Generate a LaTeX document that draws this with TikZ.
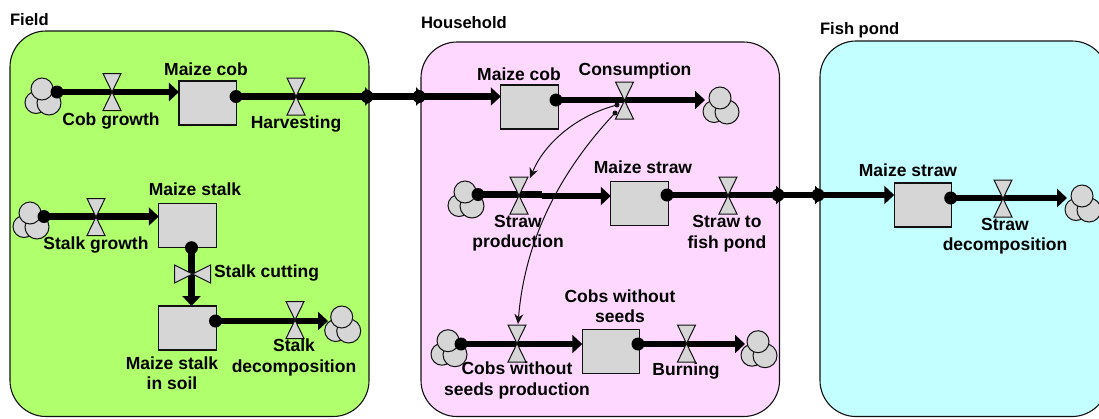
\documentclass[tikz,border=0pt]{standalone}
\usepackage{fontspec}
\newfontfamily\labfont{Liberation Sans Bold}
\usetikzlibrary{arrows.meta}
\definecolor{fieldc}{HTML}{B0FF6C}
\definecolor{housec}{HTML}{FFD8FF}
\definecolor{pondc}{HTML}{C4FFFF}
\definecolor{grayc}{HTML}{D6D6D6}
\definecolor{inkc}{HTML}{111111}
\tikzset{
  panel/.style={draw=inkc,line width=1.1pt,rounded corners=36pt},
  stock/.style={draw=inkc,fill=grayc,line width=1.1pt,minimum width=57.5pt,minimum height=44pt,inner sep=0pt,outer sep=0pt},
  dotn/.style={circle,fill=black,minimum size=13pt,inner sep=0pt,outer sep=0pt},
  flow/.style={line width=6.5pt,draw=black,-{Triangle[length=10pt,width=18pt]}},
  plainflow/.style={line width=6.5pt,draw=black},
  link/.style={line width=1pt,draw=inkc,-{Stealth[length=10pt,width=9pt]}},
  lab/.style={font=\labfont\fontsize{17.5}{20.5}\selectfont,text=black,align=center,inner sep=0pt,outer sep=0pt},
  head/.style={font=\labfont\fontsize{16.6}{18}\selectfont,text=black,anchor=west,inner sep=0pt,outer sep=0pt},
  valve/.pic={\draw[draw=inkc,fill=grayc,line width=1pt,line join=miter] (-9,-18.5)--(9,-18.5)--(0,0)--(9,18.5)--(-9,18.5)--(0,0)--cycle;},
  valveh/.pic={\draw[draw=inkc,fill=grayc,line width=1pt,line join=miter] (-18,-9)--(-18,9)--(0,0)--(18,9)--(18,-9)--(0,0)--cycle;},
  cloud/.pic={\draw[draw=inkc,fill=grayc,line width=1pt] (-6,13.5) circle[radius=11];
    \draw[draw=inkc,fill=grayc,line width=1pt] (7,14) circle[radius=12];
    \draw[draw=inkc,fill=grayc,line width=1pt] (0,0) circle[radius=11];}
}
\begin{document}
\begin{tikzpicture}[x=1pt,y=-1pt]
\useasboundingbox (0,0) rectangle (1099,418);
% panels
\draw[panel,fill=fieldc] (10,31) rectangle (369,416.5);
\draw[panel,fill=housec] (421,42) rectangle (779.5,416.5);
\draw[panel,fill=pondc] (820,41) rectangle (1108,416.5);
\node[head] (tfield) at (10,20) {Field};
\node[head] (thouse) at (421,23) {Household};
\node[head] (tpond) at (820,30) {Fish pond};
% stocks
\node[stock] (s1) at (207.7,103) {};
\node[stock] (s2) at (187.5,225.6) {};
\node[stock] (s3) at (187.5,328) {};
\node[stock] (s4) at (529.5,107) {};
\node[stock] (s5) at (639.5,203.7) {};
\node[stock] (s6) at (611,351.4) {};
\node[stock] (s7) at (923,205) {};
% clouds
\pic at (42,89) {cloud};
\pic at (30,213) {cloud};
\pic at (341.7,317) {cloud};
\pic at (720,98) {cloud};
\pic at (465,192) {cloud};
\pic at (448,340.7) {cloud};
\pic at (758,341.7) {cloud};
\pic at (1082,196) {cloud};
% named flow points
\node[dotn] (d1) at (57,92) {};
\node[dotn] (d2) at (236,96.5) {};
\node[dotn] (d3) at (367,96.5) {};
\node[dotn] (d4) at (419,96.5) {};
\node[dotn] (d5) at (44,216.5) {};
\node[dotn] (d6) at (191.5,247.7) {};
\node[dotn] (d7) at (215.5,321) {};
\node[dotn] (d8) at (556,100) {};
\node[dotn] (d9) at (478,194.5) {};
\node[dotn] (d10) at (667,195) {};
\node[dotn] (d11) at (778,195) {};
\node[dotn] (d12) at (818,195) {};
\node[dotn] (d13) at (461,344) {};
\node[dotn] (d14) at (638,344) {};
\node[dotn] (d15) at (950.7,198) {};
\coordinate (c1) at (705,100);
\coordinate (c2) at (328,321);
\coordinate (c3) at (745,344);
\coordinate (c4) at (1067,198);
\coordinate (k9) at (542,194.5);
\coordinate (k9b) at (542,196);
\coordinate (e2) at (375,96.5);
\coordinate (e4) at (426,96.5);
\coordinate (e10) at (786,195);
\coordinate (e11) at (825,195);
% flows
\draw[flow] (d1.center) -- (d1.center -| s1.west);
\draw[flow] (d2.center) -- (e2);
\draw[flow] (d3.center) -- (e4);
\draw[flow] (d4.center) -- (d4.center -| s4.west);
\draw[flow] (d5.center) -- (d5.center -| s2.west);
\draw[flow] (d6.center) -- (d6.center |- s3.north);
\draw[flow] (d7.center) -- (c2);
\draw[flow] (d8.center) -- (c1);
\draw[plainflow] (d9.center) -- (k9);
\draw[flow] (k9b) -- (k9b -| s5.west);
\draw[flow] (d10.center) -- (e10);
\draw[flow] (d11.center) -- (e11);
\draw[flow] (d12.center) -- (d12.center -| s7.west);
\draw[flow] (d13.center) -- (d13.center -| s6.west);
\draw[flow] (d14.center) -- (c3);
\draw[flow] (d15.center) -- (c4);
% valves
\coordinate (v1) at (112,92);
\coordinate (v2) at (296,96.5);
\coordinate (v3) at (96,217);
\coordinate (v4) at (192.5,274);
\coordinate (v5) at (295,320);
\coordinate (v6) at (624.5,100.5);
\coordinate (v7) at (519,195.5);
\coordinate (v8) at (728,195.5);
\coordinate (v9) at (517,343.5);
\coordinate (v10) at (686.5,343.5);
\coordinate (v11) at (1003,198.5);
\pic at (v1) {valve};
\pic at (v2) {valve};
\pic at (v3) {valve};
\pic at (v4) {valveh};
\pic at (v5) {valve};
\pic at (v6) {valve};
\pic at (v7) {valve};
\pic at (v8) {valve};
\pic at (v9) {valve};
\pic at (v10) {valve};
\pic at (v11) {valve};
% labels
\node[lab] (l1) at (111,121) {Cob growth};
\node[lab] (l2) at (206,69.5) {Maize cob};
\node[lab] (l3) at (296,124) {Harvesting};
\node[lab] (l4) at (195,189.5) {Maize stalk};
\node[lab] (l5) at (96,245) {Stalk growth};
\node[lab,anchor=west] (l6) at (214,273) {Stalk cutting};
\node[lab] (l7) at (172,373) {Maize stalk\\in soil};
\node[lab] (l8) at (294,357.5) {Stalk\\decomposition};
\node[lab] (l9) at (519,74) {Maize cob};
\node[lab] (l10) at (635,71) {Consumption};
\node[lab] (l11) at (643,167) {Maize straw};
\node[lab] (l12) at (518,233) {Straw\\production};
\node[lab] (l13) at (727,233.5) {Straw to\\fish pond};
\node[lab] (l14) at (620,306) {Cobs without\\seeds};
\node[lab] (l15) at (517,380.5) {Cobs without\\seeds production};
\node[lab] (l16) at (686,371) {Burning};
\node[lab] (l17) at (908,170) {Maize straw};
\node[lab] (l18) at (1005,236) {Straw\\decomposition};
% information links
\coordinate (a1) at (617,105);
\coordinate (a2) at (615,113);
\fill[inkc] (a1) circle[radius=2.5];
\fill[inkc] (a2) circle[radius=2.5];
\draw[link] (a1) .. controls (578,115) and (545,142) .. (530,178);
\draw[link] (a2) .. controls (552,180) and (524,250) .. (518,324);
\end{tikzpicture}
\end{document}
